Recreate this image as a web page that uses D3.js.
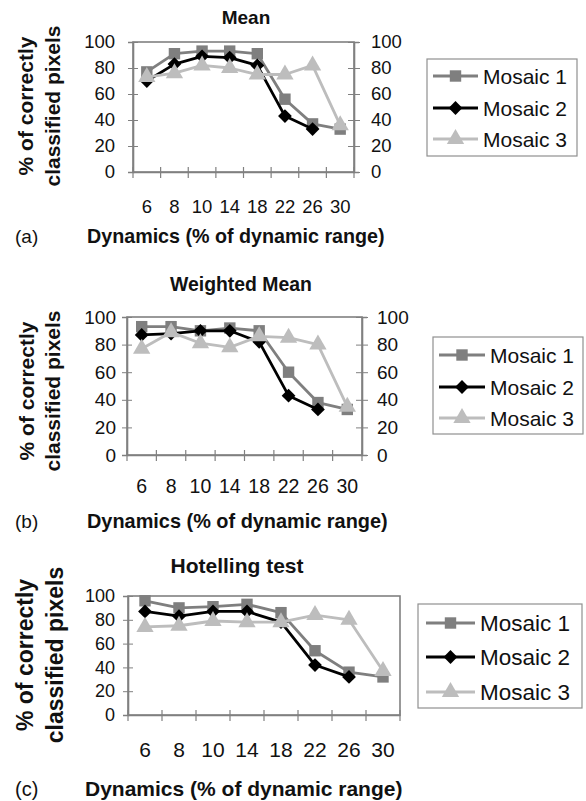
<!DOCTYPE html>
<html>
<head>
<meta charset="utf-8">
<script src="https://cdn.jsdelivr.net/npm/d3@7"></script>
<style>
  body { margin: 0; background: #fff; }
  svg { display: block; font-family: "Liberation Sans", Arial, sans-serif; }
</style>
</head>
<body>
<svg id="chart" width="586" height="801"></svg>
<script>
// x categories (dynamics, % of dynamic range) and y ticks
const dynamics = ["6", "8", "10", "14", "18", "22", "26", "30"];
const yTicks = [0, 20, 40, 60, 80, 100];
const seriesNames = ["Mosaic 1", "Mosaic 2", "Mosaic 3"];

// % of correctly classified pixels
const meanM1 = [77, 91, 93, 93, 91, 56, 37, 33];
const meanM2 = [70, 83, 89, 88, 82, 43, 33, null];
const meanM3 = [73, 76, 82, 80, 75, 75, 82, 36];

const weightedM1 = [93, 93, 90, 92, 90, 60, 38, 33];
const weightedM2 = [87, 88, 90, 90, 82, 43, 33, null];
const weightedM3 = [77, 89, 81, 78, 86, 85, 80, 35];

const hotellingM1 = [96, 90, 91, 93, 86, 54, 36, 32];
const hotellingM2 = [87, 83, 87, 87, 78, 42, 32, null];
const hotellingM3 = [74, 75, 79, 78, 78, 84, 80, 37];

const colors = ["#7f7f7f", "#000000", "#bdbdbd"];
// square, diamond (square turned 45deg), triangle
const symbols = [d3.symbolSquare, d3.symbolSquare, d3.symbolTriangle];
const symRot = [0, 45, 0];
const symSizes = [130, 95, 130];

const panels = [
  { title: "Mean", tag: "(a)", series: [meanM1, meanM2, meanM3],
    x0: 133, x1: 354, y0: 42, y1: 172, titleX: 246, titleY: 24, titleFs: 19,
    tickY: 213, axisY: 243, tickFs: 18.5, xTickFs: 18.5,
    leftPad: 13, rightAxis: true, rightPad: 12, yTitleX: [25, 52], yTitleY: 106, yTitleFs: 21,
    axTitleX: 87, axTitleFs: 19.7, tagFs: 19,
    legend: { x: 427, y: 59, w: 150, h: 97, rows: [76, 108, 139], lx: 433, tx: 483, fs: 21 } },
  { title: "Weighted Mean", tag: "(b)", series: [weightedM1, weightedM2, weightedM3],
    x0: 127, x1: 362, y0: 317, y1: 455, titleX: 241, titleY: 291, titleFs: 19.4,
    tickY: 493, axisY: 528, tickFs: 19, xTickFs: 19.5,
    leftPad: 6, rightAxis: true, rightPad: 10, yTitleX: [26, 52], yTitleY: 391, yTitleFs: 21,
    axTitleX: 87, axTitleFs: 19.9, tagFs: 19,
    legend: { x: 433, y: 337, w: 150, h: 97, rows: [355, 387, 418], lx: 439, tx: 490, fs: 21 } },
  { title: "Hotelling test", tag: "(c)", series: [hotellingM1, hotellingM2, hotellingM3],
    x0: 128, x1: 400, y0: 596, y1: 715, titleX: 237, titleY: 573, titleFs: 21,
    tickY: 757, axisY: 796, tickFs: 18, xTickFs: 21,
    leftPad: 8, rightAxis: false, yTitleX: [25, 55], yTitleY: 655, yTitleFs: 23,
    axTitleX: 85, axTitleFs: 21, tagFs: 20,
    legend: { x: 418, y: 604, w: 164, h: 104, rows: [623, 657, 692], lx: 426, tx: 480, fs: 22.5 } }
];

const svg = d3.select("#chart");
svg.append("rect").attr("width", 586).attr("height", 801).attr("fill", "#fff");

panels.forEach(p => {
  const g = svg.append("g");
  const x = d3.scaleBand().domain(dynamics).range([p.x0, p.x1]);
  const y = d3.scaleLinear().domain([0, 100]).range([p.y1, p.y0]);

  // title
  g.append("text")
    .attr("x", p.titleX).attr("y", p.titleY)
    .attr("text-anchor", "middle").attr("font-weight", "bold").attr("font-size", p.titleFs)
    .attr("fill", "#111").text(p.title);

  // plot frame
  g.append("rect")
    .attr("x", p.x0).attr("y", p.y0)
    .attr("width", p.x1 - p.x0).attr("height", p.y1 - p.y0)
    .attr("fill", "none").attr("stroke", "#808080").attr("stroke-width", 1.6);

  // left axis
  const left = g.append("g").attr("transform", `translate(${p.x0},0)`)
    .call(d3.axisLeft(y).tickValues(yTicks).tickSize(5).tickPadding(p.leftPad));
  left.select(".domain").attr("stroke", "#808080").attr("stroke-width", 1.6);
  left.selectAll(".tick line").attr("x2", 5).attr("x1", -5).attr("stroke", "#808080");
  left.selectAll(".tick text").attr("font-size", p.tickFs).attr("font-family", null).attr("fill", "#111");

  if (p.rightAxis) {
    const right = g.append("g").attr("transform", `translate(${p.x1},0)`)
      .call(d3.axisRight(y).tickValues(yTicks).tickSize(5).tickPadding(p.rightPad));
    right.select(".domain").attr("stroke", "#808080").attr("stroke-width", 1.6);
    right.selectAll(".tick line").attr("x1", -6).attr("x2", 6).attr("stroke", "#808080");
    right.selectAll(".tick text").attr("font-size", p.tickFs).attr("font-family", null).attr("fill", "#111");
  }

  // bottom axis: labels at band centres, tick marks at band edges
  const bottom = g.append("g").attr("transform", `translate(0,${p.y1})`)
    .call(d3.axisBottom(x).tickSize(0).tickPadding(0));
  bottom.select(".domain").attr("stroke", "#808080").attr("stroke-width", 1.6);
  bottom.selectAll(".tick text")
    .attr("y", p.tickY - p.y1).attr("dy", null)
    .attr("font-size", p.xTickFs).attr("font-family", null).attr("fill", "#111");
  const edges = dynamics.map(d => x(d)).concat([x(dynamics[dynamics.length - 1]) + x.bandwidth()]);
  bottom.selectAll(".edge").data(edges).enter().append("line")
    .attr("x1", d => d).attr("x2", d => d).attr("y1", -5).attr("y2", 6)
    .attr("stroke", "#808080").attr("stroke-width", 1.2);

  // series
  const line = d3.line()
    .defined(d => d != null)
    .x((d, i) => x(dynamics[i]) + x.bandwidth() / 2)
    .y(d => y(d));
  p.series.forEach((vals, si) => {
    g.append("path").datum(vals)
      .attr("d", line).attr("fill", "none")
      .attr("stroke", colors[si]).attr("stroke-width", 2.8).attr("stroke-linejoin", "round");
    g.selectAll(".m" + si).data(vals.map((v, i) => ({ v, i })).filter(d => d.v != null))
      .enter().append("path")
      .attr("transform", d => `translate(${x(dynamics[d.i]) + x.bandwidth() / 2},${y(d.v)}) rotate(${symRot[si]})`)
      .attr("d", d3.symbol().type(symbols[si]).size(symSizes[si]))
      .attr("fill", colors[si]);
  });

  // y-axis title, two lines (baseline sits right of glyph centre after rotation)
  ["% of correctly", "classified pixels"].forEach((t, k) => {
    g.append("text")
      .attr("transform", `translate(${p.yTitleX[k] + 0.36 * p.yTitleFs},${p.yTitleY}) rotate(-90)`)
      .attr("text-anchor", "middle").attr("font-weight", "bold")
      .attr("font-size", p.yTitleFs).attr("fill", "#111").text(t);
  });

  // x-axis title and panel tag
  g.append("text").attr("x", 15).attr("y", p.axisY)
    .attr("font-size", p.tagFs).attr("fill", "#111").text(p.tag);
  g.append("text").attr("x", p.axTitleX).attr("y", p.axisY)
    .attr("font-weight", "bold").attr("font-size", p.axTitleFs).attr("fill", "#111")
    .text("Dynamics (% of dynamic range)");

  // legend
  const L = p.legend;
  g.append("rect").attr("x", L.x).attr("y", L.y).attr("width", L.w).attr("height", L.h)
    .attr("fill", "#fff").attr("stroke", "#909090").attr("stroke-width", 1.2);
  seriesNames.forEach((name, si) => {
    const ry = L.rows[si];
    const mx = (L.lx + L.tx - 5) / 2;
    g.append("line").attr("x1", L.lx).attr("x2", L.tx - 5).attr("y1", ry).attr("y2", ry)
      .attr("stroke", colors[si]).attr("stroke-width", 2.8);
    g.append("path").attr("transform", `translate(${mx},${ry}) rotate(${symRot[si]})`)
      .attr("d", d3.symbol().type(symbols[si]).size(symSizes[si])).attr("fill", colors[si]);
    g.append("text").attr("x", L.tx).attr("y", ry).attr("dy", "0.36em")
      .attr("font-size", L.fs).attr("fill", "#111").text(name);
  });
});
</script>
</body>
</html>
